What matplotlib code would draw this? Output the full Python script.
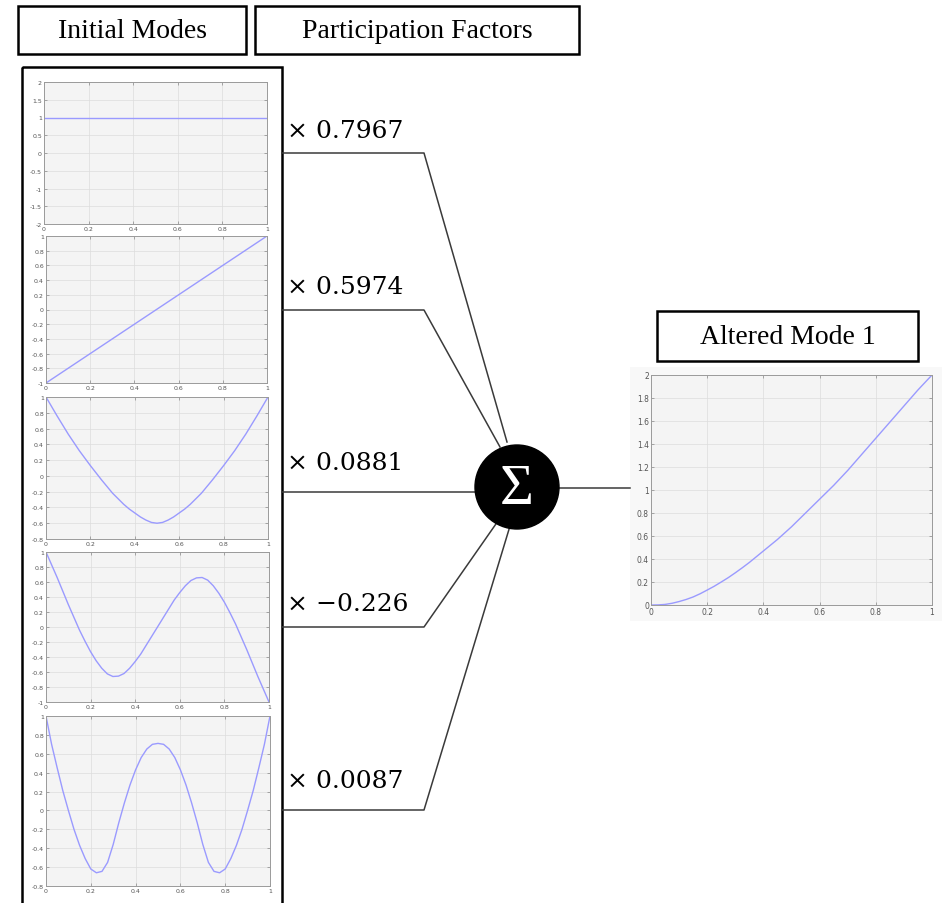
import numpy as np
import matplotlib
matplotlib.use("Agg")
import matplotlib.pyplot as plt
from matplotlib.patches import Circle, Rectangle

# ---- data ----
x_line = [0.0, 1.0]
x_pts = [0.0, 0.025, 0.05, 0.075, 0.1, 0.125, 0.15, 0.175, 0.2, 0.225,
         0.25, 0.275, 0.3, 0.325, 0.35, 0.375, 0.4, 0.425, 0.45, 0.475,
         0.5, 0.525, 0.55, 0.575, 0.6, 0.625, 0.65, 0.675, 0.7, 0.725,
         0.75, 0.775, 0.8, 0.825, 0.85, 0.875, 0.9, 0.925, 0.95, 0.975, 1.0]

mode1 = [1.0, 1.0]
mode2 = [-1.0, 1.0]
mode3 = [1.0, 0.88, 0.76, 0.645, 0.53, 0.425, 0.32, 0.225, 0.13, 0.04,
         -0.05, -0.135, -0.22, -0.29, -0.36, -0.42, -0.47, -0.52, -0.56, -0.59,
         -0.6, -0.59, -0.56, -0.52, -0.47, -0.42, -0.36, -0.29, -0.22, -0.135,
         -0.05, 0.04, 0.13, 0.225, 0.32, 0.425, 0.53, 0.645, 0.76, 0.88, 1.0]
mode4 = [1.0, 0.83, 0.66, 0.48, 0.3, 0.13, -0.04, -0.19, -0.33, -0.45,
         -0.55, -0.625, -0.66, -0.655, -0.62, -0.55, -0.46, -0.36, -0.24, -0.12,
         0.0, 0.12, 0.24, 0.36, 0.46, 0.55, 0.62, 0.655, 0.66, 0.625,
         0.55, 0.45, 0.33, 0.19, 0.04, -0.13, -0.3, -0.48, -0.66, -0.83, -1.0]
mode5 = [1.0, 0.7, 0.45, 0.21, 0.0, -0.2, -0.37, -0.51, -0.62, -0.66,
         -0.645, -0.55, -0.36, -0.13, 0.08, 0.27, 0.43, 0.56, 0.65, 0.7,
         0.71, 0.7, 0.65, 0.56, 0.43, 0.27, 0.08, -0.13, -0.36, -0.55,
         -0.645, -0.66, -0.62, -0.51, -0.37, -0.2, 0.0, 0.21, 0.45, 0.7, 1.0]
altered = [0.0, 0.001, 0.005, 0.015, 0.03, 0.048, 0.07, 0.098, 0.13, 0.163,
           0.2, 0.238, 0.28, 0.324, 0.37, 0.42, 0.47, 0.52, 0.57, 0.625,
           0.68, 0.74, 0.8, 0.86, 0.92, 0.98, 1.04, 1.105, 1.17, 1.24,
           1.31, 1.38, 1.45, 1.52, 1.59, 1.66, 1.73, 1.8, 1.87, 1.935, 2.0]

factors = ["\u00d7 0.7967", "\u00d7 0.5974", "\u00d7 0.0881", "\u00d7 \u22120.226", "\u00d7 0.0087"]

modes = [(x_line, mode1), (x_line, mode2), (x_pts, mode3), (x_pts, mode4), (x_pts, mode5)]
mode_ylims = [(-2, 2), (-1, 1), (-0.8, 1), (-1, 1), (-0.8, 1)]
mode_yticks = [np.arange(-2, 2.01, 0.5), np.arange(-1, 1.01, 0.2),
               np.arange(-0.8, 1.01, 0.2), np.arange(-1, 1.01, 0.2),
               np.arange(-0.8, 1.01, 0.2)]

# ---- layout (pixels) ----
W, H = 942, 904
panel_boxes = [(44, 267, 83, 225), (46, 267, 237, 384), (46, 268, 398, 540),
               (46, 269, 553, 703), (46, 270, 717, 887)]
right_box = (651, 932, 376, 606)
line_y = [154, 311, 493, 628, 811]
line_end = [(507, 443), (500, 448), (475, 493), (498, 522), (510, 527)]
label_base = [138, 294, 470, 611, 788]
sigma_c, sigma_r = (517, 488), 42

LINE_C = "#9a9aff"


def add_px_axes(fig, x0, x1, y0, y1):
    return fig.add_axes([x0 / W, 1 - y1 / H, (x1 - x0) / W, (y1 - y0) / H])


def style_matlab(ax, ylim, yticks, xticks):
    ax.set_facecolor("#f4f4f4")
    ax.set_xlim(0, 1)
    ax.set_ylim(*ylim)
    ax.set_xticks(xticks)
    ax.set_yticks(yticks)
    ax.set_xticklabels([f"{v:g}" for v in xticks])
    ax.set_yticklabels([f"{v + 0.0:g}" for v in np.round(yticks, 2) + 0.0])
    ax.grid(True, color="#dcdcdc", lw=0.5)
    ax.tick_params(direction="in", length=2, width=0.5, labelsize=4.5,
                   labelcolor="#555555", color="#888888", pad=1.5,
                   top=True, right=True)
    for s in ax.spines.values():
        s.set_color("#9a9a9a")
        s.set_linewidth(0.7)


fig = plt.figure(figsize=(W / 100, H / 100), dpi=100)
bg = fig.add_axes([0, 0, 1, 1])
bg.set_xlim(0, W)
bg.set_ylim(H, 0)
bg.axis("off")

# title boxes
boxes = [((18, 7, 228, 48), "Initial Modes"),
         ((255, 7, 324, 48), "Participation Factors"),
         ((657, 312, 261, 50), "Altered Mode 1")]
for (bx, by, bw, bh), txt in boxes:
    bg.add_patch(Rectangle((bx, by), bw, bh, fill=False, ec="black", lw=1.8))
    bg.text(bx + bw / 2, by + bh / 2 + 1, txt, ha="center", va="center",
            fontsize=20, family="Liberation Serif")

# frame around the initial modes
bg.add_patch(Rectangle((22, 68), 260, 860, fill=False, ec="black", lw=1.8))
# light backdrop behind the altered mode plot
bg.add_patch(Rectangle((630, 368), 312, 254, fc="#f8f8f8", ec="none"))

# connectors
for yy, (ex, ey), lab, lb in zip(line_y, line_end, factors, label_base):
    if abs(ey - yy) < 5:
        bg.plot([282, ex], [yy, ey], color="#3a3a3a", lw=1.1)
    else:
        bg.plot([282, 424, ex], [yy, yy, ey], color="#3a3a3a", lw=1.1)
    bg.text(287, lb, lab, ha="left", va="baseline", fontsize=18,
            family="DejaVu Serif")
bg.plot([sigma_c[0] + sigma_r, 630], [489, 489], color="#3a3a3a", lw=1.1)
bg.add_patch(Circle(sigma_c, sigma_r, color="black", zorder=5))
bg.text(sigma_c[0], sigma_c[1] + 2, "\u03a3", color="white", ha="center",
        va="center", fontsize=42, family="Liberation Serif", zorder=6)

# initial mode panels
xt = [0, 0.2, 0.4, 0.6, 0.8, 1]
for (x0, x1, y0, y1), (mx, my), yl, yt in zip(panel_boxes, modes, mode_ylims, mode_yticks):
    ax = add_px_axes(fig, x0, x1, y0, y1)
    ax.plot(mx, my, color=LINE_C, lw=1.0)
    style_matlab(ax, yl, yt, xt)

# altered mode panel
ax = add_px_axes(fig, *right_box)
ax.plot(x_pts, altered, color=LINE_C, lw=1.0)
style_matlab(ax, (0, 2), np.arange(0, 2.01, 0.2), xt)
ax.tick_params(labelsize=5.5)

fig.savefig("out.png", dpi=100, facecolor="white")
